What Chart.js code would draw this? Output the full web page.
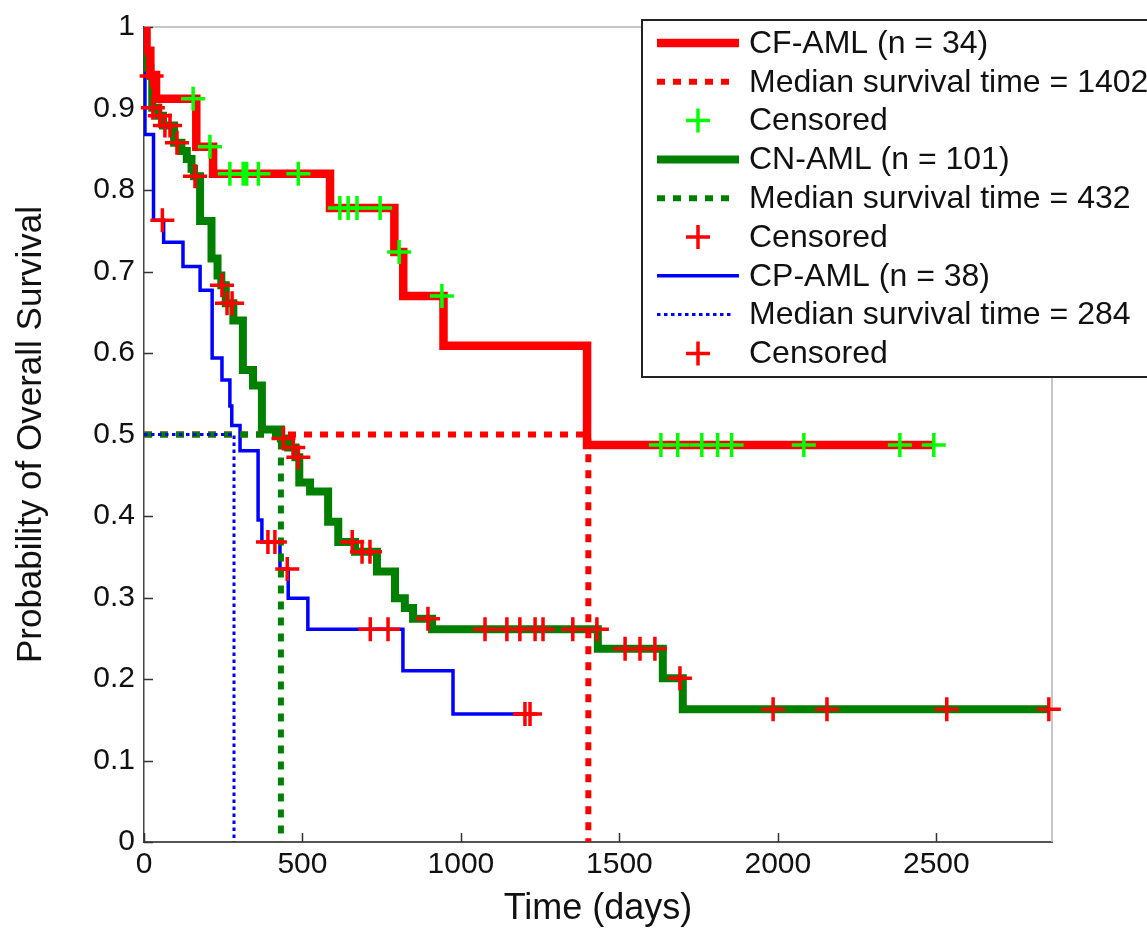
<!DOCTYPE html>
<html>
<head>
<meta charset="utf-8">
<script src="https://cdn.jsdelivr.net/npm/chart.js@4.4.1/dist/chart.umd.min.js"></script>
<style>
  html, body { margin: 0; padding: 0; background: #fff; }
  #wrap { width: 1147px; height: 933px; position: relative; }
</style>
</head>
<body>
<div id="wrap"><canvas id="km"></canvas></div>
<script>
/* global Chart */

// ---------- Data ----------
const GROUPS = ["CF-AML", "CN-AML", "CP-AML"];
const GROUP_N = [34, 101, 38];
const MEDIANS = [1402, 432, 284];

// Kaplan-Meier steps: time of event (days) -> survival after it
const CF_T = [0, 8, 20, 38, 165, 218, 587, 790, 818, 945, 1398, 2495];
const CF_S = [1, 0.971, 0.941, 0.912, 0.853, 0.82, 0.778, 0.724, 0.67, 0.609, 0.487, 0.487];
const CF_CENS = [155, 208, 271, 313, 324, 361, 487, 618, 644, 672, 745, 805, 940,
  1631, 1684, 1760, 1810, 1854, 2082, 2385, 2492];

const CN_T = [0, 3, 10, 20, 26, 45, 60, 95, 118, 135, 150, 158, 177, 213, 232, 244, 258, 282,
  312, 344, 372, 432, 455, 478, 490, 524, 581, 613, 666, 735, 792, 823, 849, 909, 1432, 1637, 1700, 2855];
const CN_S = [1, 0.97, 0.95, 0.94, 0.901, 0.891, 0.879, 0.858, 0.848, 0.838, 0.826, 0.817, 0.762, 0.716,
  0.695, 0.683, 0.661, 0.64, 0.579, 0.56, 0.506, 0.495, 0.484, 0.472, 0.441, 0.43, 0.393, 0.368, 0.356,
  0.332, 0.299, 0.287, 0.274, 0.261, 0.237, 0.201, 0.163, 0.163];
const CN_CENS = [24, 28, 50, 66, 82, 104, 161, 246, 262, 278, 440, 471, 487, 657, 688, 713, 896,
  1076, 1145, 1186, 1234, 1259, 1353, 1429, 1518, 1565, 1612, 1691, 1985, 2155, 2533, 2855];

const CP_T = [0, 3, 30, 62, 123, 177, 215, 246, 271, 277, 303, 360, 372, 429, 455, 517, 817, 975, 1218];
const CP_S = [1, 0.868, 0.763, 0.736, 0.706, 0.677, 0.594, 0.567, 0.535, 0.511, 0.48, 0.395, 0.368,
  0.335, 0.299, 0.261, 0.21, 0.157, 0.157];
const CP_CENS = [58, 391, 413, 452, 714, 770, 1202, 1218];

const X_TICKS = [0, 500, 1000, 1500, 2000, 2500];
const Y_TICKS = [0, 0.1, 0.2, 0.3, 0.4, 0.5, 0.6, 0.7, 0.8, 0.9, 1];
const X_MAX = 2865;

// ---------- Helpers ----------
const stepAt = (times, surv, t) => {
  let s = surv[0];
  times.forEach((tt, i) => { if (tt <= t) s = surv[i]; });
  return s;
};

const curve = (key, T, S, color, width) => ({
  key, label: key, type: "line",
  data: T.map((t, i) => ({ x: t, y: S[i] })),
  borderColor: color, borderWidth: width,
  stepped: "before", pointRadius: 0, fill: false,
  borderJoinStyle: "miter", borderCapStyle: "butt",
});

const median = (key, m, color, width, dash) => ({
  key, label: key, type: "line",
  data: [{ x: 0, y: 0.5 }, { x: m, y: 0.5 }, { x: m, y: 0 }],
  borderColor: color, borderWidth: width, borderDash: dash,
  borderCapStyle: "butt", pointRadius: 0, fill: false,
});

const censor = (key, T, S, cens, color) => ({
  key, label: key, type: "line", showLine: false,
  data: cens.map((t) => ({ x: t, y: stepAt(T, S, t) })),
  pointStyle: "cross", pointRadius: 12, pointBorderWidth: 3.5,
  borderColor: color, pointBorderColor: color, backgroundColor: color,
  clip: false,
});

const RED = "#ff0000", GREEN = "#008000", LIME = "#00ff00", BLUE = "#0000ff";

// index 0 is painted on top
const datasets = [
  censor("cpCens", CP_T, CP_S, CP_CENS, RED),
  censor("cnCens", CN_T, CN_S, CN_CENS, RED),
  censor("cfCens", CF_T, CF_S, CF_CENS, LIME),
  median("cpMed", MEDIANS[2], BLUE, 3, [3.5, 3.5]),
  median("cnMed", MEDIANS[1], GREEN, 6, [8, 8]),
  median("cfMed", MEDIANS[0], RED, 6, [8, 8]),
  curve("cf", CF_T, CF_S, RED, 8.5),
  curve("cn", CN_T, CN_S, GREEN, 8),
  curve("cp", CP_T, CP_S, BLUE, 3.5),
];

const LEGEND = [
  ["cf", `${GROUPS[0]} (n = ${GROUP_N[0]})`],
  ["cfMed", `Median survival time = ${MEDIANS[0]}`],
  ["cfCens", "Censored"],
  ["cn", `${GROUPS[1]} (n = ${GROUP_N[1]})`],
  ["cnMed", `Median survival time = ${MEDIANS[1]}`],
  ["cnCens", "Censored"],
  ["cp", `${GROUPS[2]} (n = ${GROUP_N[2]})`],
  ["cpMed", `Median survival time = ${MEDIANS[2]}`],
  ["cpCens", "Censored"],
];

// ---------- Plugins: box, inward ticks, legend ----------
const axesBox = {
  id: "axesBox",
  beforeDatasetsDraw(chart) {
    const { ctx, chartArea: a, scales } = chart;
    ctx.save();
    ctx.strokeStyle = "#b4b4b4";
    ctx.lineWidth = 1.5;
    ctx.beginPath();
    ctx.moveTo(a.left, a.top); ctx.lineTo(a.right, a.top); ctx.lineTo(a.right, a.bottom);
    ctx.stroke();
    ctx.strokeStyle = "#333";
    ctx.lineWidth = 1.5;
    ctx.beginPath();
    X_TICKS.forEach((v) => {
      const x = Math.round(scales.x.getPixelForValue(v)) + 0.5;
      ctx.moveTo(x, a.bottom); ctx.lineTo(x, a.bottom - 9);
    });
    Y_TICKS.forEach((v) => {
      const y = Math.round(scales.y.getPixelForValue(v)) + 0.5;
      ctx.moveTo(a.left, y); ctx.lineTo(a.left + 9, y);
    });
    ctx.stroke();
    ctx.restore();
  },
};

const kmLegend = {
  id: "kmLegend",
  afterDraw(chart) {
    const ctx = chart.ctx;
    const left = 642, top = 20, bottom = 377;
    ctx.save();
    ctx.fillStyle = "#fff";
    ctx.fillRect(left, top, 600, bottom - top);
    ctx.strokeStyle = "#222";
    ctx.lineWidth = 2;
    ctx.strokeRect(left, top, 600, bottom - top);
    ctx.font = '32px "Liberation Sans", Arial, sans-serif';
    ctx.textBaseline = "middle";
    ctx.fillStyle = "#111";
    LEGEND.forEach(([key, text], i) => {
      const ds = chart.data.datasets.find((d) => d.key === key);
      const y = 43 + i * 38.8;
      ctx.save();
      if (ds.showLine === false) {
        const r = ds.pointRadius;
        ctx.strokeStyle = ds.pointBorderColor;
        ctx.lineWidth = ds.pointBorderWidth;
        ctx.beginPath();
        ctx.moveTo(698 - r, y); ctx.lineTo(698 + r, y);
        ctx.moveTo(698, y - r); ctx.lineTo(698, y + r);
        ctx.stroke();
      } else {
        ctx.strokeStyle = ds.borderColor;
        ctx.lineWidth = ds.borderWidth;
        ctx.setLineDash(ds.borderDash || []);
        ctx.beginPath();
        ctx.moveTo(657, y); ctx.lineTo(ds.borderDash ? 734 : 739, y);
        ctx.stroke();
      }
      ctx.restore();
      ctx.fillText(text, 749, y + 1);
    });
    ctx.restore();
  },
};

// ---------- Chart ----------
Chart.defaults.font.family = '"Liberation Sans", Arial, sans-serif';
Chart.defaults.color = "#111";

new Chart(document.getElementById("km"), {
  type: "line",
  data: { datasets },
  options: {
    responsive: true,
    maintainAspectRatio: false,
    animation: false,
    devicePixelRatio: 1,
    layout: { padding: { top: 22, right: 95, left: 0, bottom: 0 } },
    plugins: { legend: { display: false }, tooltip: { enabled: false } },
    scales: {
      x: {
        type: "linear",
        min: 0,
        max: X_MAX,
        afterBuildTicks: (s) => { s.ticks = X_TICKS.map((v) => ({ value: v })); },
        afterFit: (s) => { s.height = 91; },
        grid: { display: false, drawTicks: false },
        border: { display: true, color: "#555", width: 2 },
        ticks: { font: { size: 30 }, padding: 5, maxRotation: 0, callback: (v) => String(v) },
        title: { display: true, text: "Time (days)", font: { size: 36 }, padding: { top: 0, bottom: 2 } },
      },
      y: {
        type: "linear",
        min: 0,
        max: 1,
        afterBuildTicks: (s) => { s.ticks = Y_TICKS.map((v) => ({ value: v })); },
        afterFit: (s) => { s.width = 144; },
        grid: { display: false, drawTicks: false },
        border: { display: true, color: "#444", width: 1.5 },
        ticks: { font: { size: 30 }, padding: 9, callback: (v) => String(v) },
        title: { display: true, text: "Probability of Overall Survival", font: { size: 35 }, padding: { top: 10, bottom: 0 } },
      },
    },
  },
  plugins: [axesBox, kmLegend],
});
</script>
</body>
</html>
